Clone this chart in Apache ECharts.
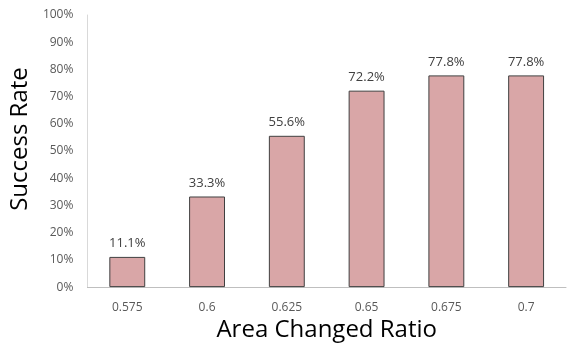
<!DOCTYPE html>
<html>
<head>
<meta charset="utf-8">
<script src="https://cdn.jsdelivr.net/npm/echarts@6/dist/echarts.min.js"></script>
<style>
  html, body { margin: 0; padding: 0; background: #fff; }
  #chart { width: 567px; height: 347px; }
</style>
</head>
<body>
<div id="chart"></div>
<script>
var ratios = ['0.575', '0.6', '0.625', '0.65', '0.675', '0.7']
var successRate = [11.1, 33.3, 55.6, 72.2, 77.8, 77.8]

var chart = echarts.init(document.getElementById('chart'))
chart.setOption({
  animation: false,
  textStyle: { fontFamily: 'Open Sans' },
  grid: { left: 84, right: 1, top: 15, bottom: 58 },
  xAxis: {
    type: 'category',
    data: ratios,
    name: 'Area Changed Ratio',
    nameLocation: 'middle',
    nameGap: 29,
    nameTextStyle: { fontSize: 24, color: '#000' },
    axisLine: { lineStyle: { color: '#bfbfbf', width: 1 } },
    axisTick: { show: false },
    axisLabel: { fontSize: 12, color: '#595959', margin: 14 }
  },
  yAxis: {
    type: 'value',
    min: 0,
    max: 100,
    interval: 10,
    name: 'Success Rate',
    nameLocation: 'middle',
    nameGap: 51,
    // shifted a bit above the middle like the original
    nameTextStyle: { fontSize: 24, color: '#000', padding: [0, 0, 0, 24] },
    axisLine: { show: true, lineStyle: { color: '#d9d9d9', width: 1 } },
    axisTick: { show: false },
    splitLine: { show: false },
    axisLabel: { fontSize: 12, color: '#595959', margin: 14, formatter: '{value}%' }
  },
  series: [
    {
      type: 'bar',
      data: successRate,
      barWidth: '45%',
      itemStyle: { color: '#d9a6a7', borderColor: '#404040', borderWidth: 1 },
      label: {
        show: true,
        position: 'top',
        distance: 7,
        fontSize: 13,
        color: '#404040',
        formatter: function(p) { return p.value.toFixed(1) + '%' }
      }
    }
  ]
})
</script>
</body>
</html>
